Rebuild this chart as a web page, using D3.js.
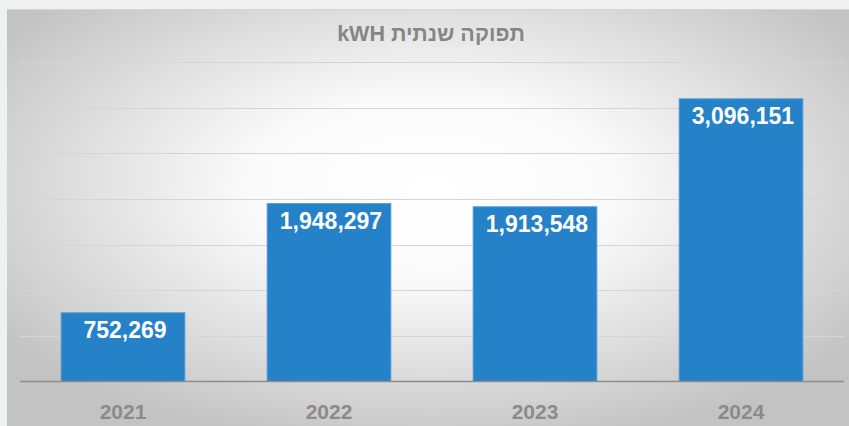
<!DOCTYPE html>
<html>
<head>
<meta charset="utf-8">
<script src="https://cdn.jsdelivr.net/npm/d3@7"></script>
<style>
  body { margin: 0; background: #eef1ef; }
  svg { display: block; }
</style>
</head>
<body>
<script>
// chart data
const years = ["2021", "2022", "2023", "2024"];
const outputs = [752269, 1948297, 1913548, 3096151];
const gridTicks = [500000, 1000000, 1500000, 2000000, 2500000, 3000000, 3500000];
const title = "kWH תפוקה שנתית";

const width = 849;
const height = 426;

const svg = d3.select("body").append("svg")
  .attr("width", width)
  .attr("height", height);

let defs = svg.append("defs");

// radial grey -> white background
const grad = defs.append("radialGradient")
  .attr("id", "bg")
  .attr("cx", 0.5).attr("cy", 0.42).attr("r", 0.62);
grad.append("stop").attr("offset", 0).attr("stop-color", "#ffffff");
grad.append("stop").attr("offset", 0.35).attr("stop-color", "#fafafa");
grad.append("stop").attr("offset", 1).attr("stop-color", "#c3c3c3");

svg.append("rect")
  .attr("x", 7).attr("y", 9)
  .attr("width", width).attr("height", height)
  .attr("fill", "url(#bg)");

svg.append("line")
  .attr("x1", 7).attr("x2", width)
  .attr("y1", 9.5).attr("y2", 9.5)
  .attr("stroke", "#d6d6d6");

// scales
const x = d3.scaleBand()
  .domain(years)
  .range([20, 844])
  .paddingInner(0.4)
  .paddingOuter(0.2);

const y = d3.scaleLinear()
  .domain([0, 3500000])
  .range([381.5, 62]);

// gridlines
svg.append("g").selectAll("line")
  .data(gridTicks)
  .join("line")
    .attr("x1", 20).attr("x2", 844)
    .attr("y1", (d) => Math.round(y(d)) + 0.5)
    .attr("y2", (d) => Math.round(y(d)) + 0.5)
    .attr("stroke", "#d5d5d5")
    .attr("stroke-width", 1);

// bars
svg.append("g").selectAll("rect")
  .data(outputs)
  .join("rect")
    .attr("x", (d, i) => x(years[i]))
    .attr("y", (d) => y(d))
    .attr("width", x.bandwidth())
    .attr("height", (d) => y(0) - y(d))
    .attr("fill", "#2581c8")
    .attr("stroke", "#4c98d3")
    .attr("stroke-width", 1);

// value labels
svg.append("g").selectAll("text")
  .data(outputs)
  .join("text")
    .attr("x", (d, i) => x(years[i]) + x.bandwidth() / 2 + 2)
    .attr("y", (d) => y(d) + 25)
    .attr("text-anchor", "middle")
    .attr("fill", "#ffffff")
    .style("font-family", "'Liberation Sans', Arial, sans-serif")
    .style("font-weight", "bold")
    .style("font-size", "23px")
    .text((d) => d3.format(",")(d));

// x axis line
svg.append("line")
  .attr("x1", 20).attr("x2", 844)
  .attr("y1", 381.5).attr("y2", 381.5)
  .attr("stroke", "#8c8c8c")
  .attr("stroke-width", 1.5);

// year labels
svg.append("g").selectAll("text")
  .data(years)
  .join("text")
    .attr("x", (d) => x(d) + x.bandwidth() / 2)
    .attr("y", 419)
    .attr("text-anchor", "middle")
    .attr("fill", "#8b8b8b")
    .style("font-family", "'Liberation Sans', Arial, sans-serif")
    .style("font-weight", "bold")
    .style("font-size", "21px")
    .text((d) => d);

// title
svg.append("text")
  .attr("x", 431)
  .attr("y", 41)
  .attr("text-anchor", "middle")
  .attr("fill", "#858585")
  .style("font-family", "'Liberation Sans', Arial, sans-serif")
  .style("font-weight", "bold")
  .style("font-size", "21.5px")
  .text(title);
</script>
</body>
</html>
